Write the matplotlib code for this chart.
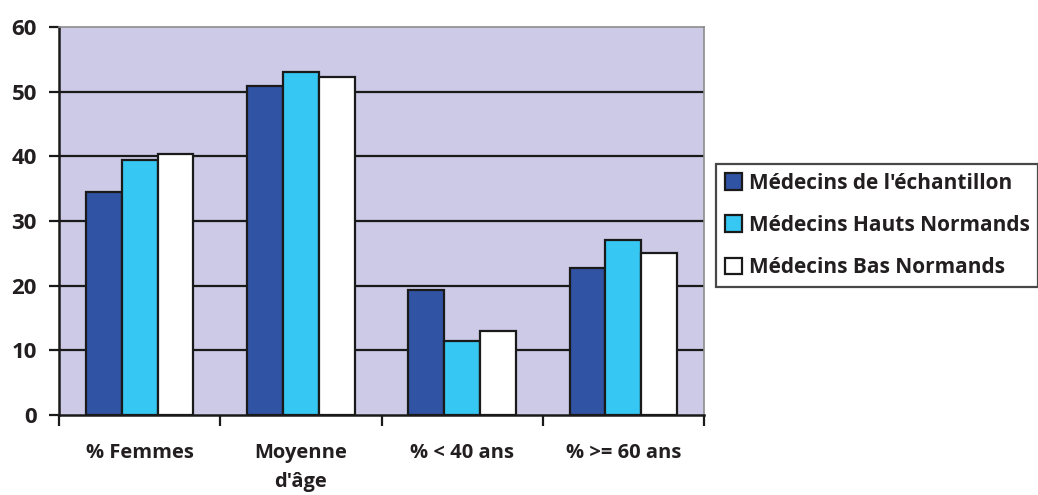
import numpy as np
import matplotlib
matplotlib.use("Agg")
import matplotlib.pyplot as plt

# Données
categories = ["% Femmes", "Moyenne\nd'âge", "% < 40 ans", "% >= 60 ans"]
series_names = ["Médecins de l'échantillon", "Médecins Hauts Normands", "Médecins Bas Normands"]
echantillon = [34.5, 50.8, 19.4, 22.7]
hauts_normands = [39.5, 53.1, 11.5, 27.0]
bas_normands = [40.3, 52.3, 13.0, 25.0]
y_ticks = [0, 10, 20, 30, 40, 50, 60]

colors = ["#3053A3", "#36C8F2", "#FFFFFF"]

plt.rcParams['font.family'] = ['Open Sans', 'DejaVu Sans']
plt.rcParams['font.weight'] = 'bold'

fig = plt.figure(figsize=(10.38, 4.95), dpi=100)
ax = fig.add_axes([59 / 1038, 80 / 495, 645 / 1038, 388 / 495])
ax.set_facecolor("#CCCAE6")

x = np.arange(len(categories))
width = 0.222
for i, (vals, name) in enumerate(zip([echantillon, hauts_normands, bas_normands], series_names)):
    ax.bar(x + (i - 1) * width, vals, width, color=colors[i], edgecolor="#1A1A1A",
           linewidth=1.6, label=name, zorder=3)

ax.set_ylim(0, 60)
ax.set_xlim(-0.5, len(categories) - 0.5)
ax.set_yticks(y_ticks)
ax.set_yticklabels([str(t) for t in y_ticks], fontsize=16, fontweight='bold', color="#231F20")
for t in y_ticks[1:-1]:
    ax.axhline(t, color="#1A1A1A", linewidth=1.6, zorder=1)

# ticks des catégories aux frontières
ax.set_xticks(np.arange(len(categories) + 1) - 0.5)
ax.set_xticklabels([])
ax.set_xticks(x, minor=True)
ax.set_xticklabels(categories, minor=True, fontsize=14.5, fontweight='bold', color="#231F20",
                   linespacing=1.6)
ax.tick_params(axis='x', which='minor', length=0, pad=20)
ax.tick_params(axis='x', which='major', direction='out', length=8, width=1.6, color="#1A1A1A")
ax.tick_params(axis='y', direction='out', length=7, width=1.6, color="#1A1A1A", pad=9)

ax.spines['left'].set_linewidth(1.8)
ax.spines['left'].set_color("#1A1A1A")
ax.spines['bottom'].set_linewidth(1.8)
ax.spines['bottom'].set_color("#1A1A1A")
ax.spines['top'].set_color("#8C8C8C")
ax.spines['top'].set_linewidth(1.2)
ax.spines['right'].set_color("#8C8C8C")
ax.spines['right'].set_linewidth(1.2)

leg = fig.legend(loc='upper left', bbox_to_anchor=(716 / 1038, 1 - 164 / 495),
                 frameon=True, fancybox=False, edgecolor="#1A1A1A",
                 prop={'size': 15, 'weight': 'bold'}, handlelength=0.85, handleheight=0.85,
                 handletextpad=0.3, labelspacing=1.02, borderpad=0.42, borderaxespad=0)
leg.get_frame().set_linewidth(1.6)
for txt in leg.get_texts():
    txt.set_color("#231F20")

fig.savefig("out.png", dpi=100, facecolor="white")
